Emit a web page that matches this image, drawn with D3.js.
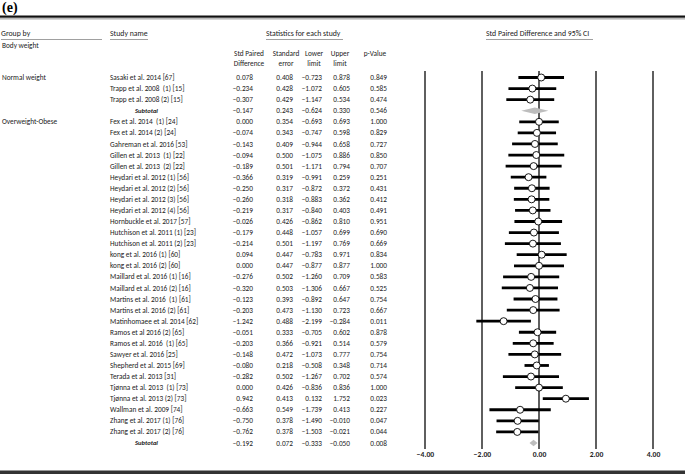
<!DOCTYPE html>
<html>
<title>Forest plot (e)</title>
<meta charset="UTF-8">
<script type="text/javascript" src="https://d3js.org/d3.v7.min.js"></script>
<style type="text/css">
	body { margin:0; background:white; }
	svg { display:block; }
	text { font-family: "Carlito", "Liberation Sans", Arial, sans-serif; font-size: 7.3px; fill:#222; white-space: pre; }
	.hdr { font-size: 7.8px; }
	.sub { font-style: italic; font-weight: bold; font-size: 6.6px; }
	.tick text { font-weight: bold; font-size: 7.6px; fill:#222; }
</style>
<body>
<svg id="viz"></svg>
</body>
<script type="text/javascript">

	var groupNames = ["Normal weight", "Overweight-Obese"];
	var groupFirstRow = [0, 4];

	var names = ["Sasaki et al. 2014 [67]", "Trapp et al. 2008  (1) [15]", "Trapp et al. 2008 (2) [15]", "Subtotal",
		"Fex et al. 2014  (1) [24]", "Fex et al. 2014 (2) [24]", "Gahreman et al. 2016 [53]", "Gillen et al. 2013  (1) [22]",
		"Gillen et al. 2013  (2) [22]", "Heydari et al. 2012 (1) [56]", "Heydari et al. 2012 (2) [56]", "Heydari et al. 2012 (3) [56]",
		"Heydari et al. 2012 (4) [56]", "Hornbuckle et al. 2017 [57]", "Hutchison et al. 2011 (1) [23]", "Hutchison et al. 2011 (2) [23]",
		"kong et al. 2016 (1) [60]", "kong et al. 2016 (2) [60]", "Maillard et al. 2016 (1) [16]", "Maillard et al. 2016 (2) [16]",
		"Martins et al. 2016  (1) [61]", "Martins et al. 2016 (2) [61]", "Matinhomaee et al. 2014 [62]", "Ramos et al 2016 (2) [65]",
		"Ramos et al. 2016  (1) [65]", "Sawyer et al. 2016 [25]", "Shepherd et al. 2015 [69]", "Terada et al. 2013 [31]",
		"Tjønna et al. 2013  (1) [73]", "Tjønna et al. 2013 (2) [73]", "Wallman et al. 2009 [74]", "Zhang et al. 2017 (1) [76]",
		"Zhang et al. 2017 (2) [76]", "Subtotal"];

	var diff = [0.078, -0.234, -0.307, -0.147, 0.000, -0.074, -0.143, -0.094, -0.189, -0.366, -0.250, -0.260, -0.219, -0.026, -0.179, -0.214,
		0.094, 0.000, -0.276, -0.320, -0.123, -0.203, -1.242, -0.051, -0.203, -0.148, -0.080, -0.282, 0.000, 0.942, -0.663, -0.750, -0.762, -0.192];
	var se = [0.408, 0.428, 0.429, 0.243, 0.354, 0.343, 0.409, 0.500, 0.501, 0.319, 0.317, 0.318, 0.317, 0.426, 0.448, 0.501,
		0.447, 0.447, 0.502, 0.503, 0.393, 0.473, 0.488, 0.333, 0.366, 0.472, 0.218, 0.502, 0.426, 0.413, 0.549, 0.378, 0.378, 0.072];
	var lower = [-0.723, -1.072, -1.147, -0.624, -0.693, -0.747, -0.944, -1.075, -1.171, -0.991, -0.872, -0.883, -0.840, -0.862, -1.057, -1.197,
		-0.783, -0.877, -1.260, -1.306, -0.892, -1.130, -2.199, -0.705, -0.921, -1.073, -0.508, -1.267, -0.836, 0.132, -1.739, -1.490, -1.503, -0.333];
	var upper = [0.878, 0.605, 0.534, 0.330, 0.693, 0.598, 0.658, 0.886, 0.794, 0.259, 0.372, 0.362, 0.403, 0.810, 0.699, 0.769,
		0.971, 0.877, 0.709, 0.667, 0.647, 0.723, -0.284, 0.602, 0.514, 0.777, 0.348, 0.702, 0.836, 1.752, 0.413, -0.010, -0.021, -0.050];
	var pval = [0.849, 0.585, 0.474, 0.546, 1.000, 0.829, 0.727, 0.850, 0.707, 0.251, 0.431, 0.412, 0.491, 0.951, 0.690, 0.669,
		0.834, 1.000, 0.583, 0.525, 0.754, 0.667, 0.011, 0.878, 0.579, 0.754, 0.714, 0.574, 1.000, 0.023, 0.227, 0.047, 0.044, 0.008];

	var axisTicks = [-4, -2, 0, 2, 4];

	var width = 685, height = 474;
	var rows = names.map(function(n, i){
		return {name: n, diff: diff[i], se: se[i], lower: lower[i], upper: upper[i], p: pval[i], sub: n === "Subtotal"};
	});

	var svg = d3.select("#viz").attr("width", width).attr("height", height);

	var xScale = d3.scaleLinear().domain([-4, 4]).range([425, 653]);
	var yScale = d3.scaleLinear().domain([0, rows.length - 1]).range([77.5, 443]);
	var f3 = d3.format(".3f");

	// title + rules
	svg.append("text").attr("x", 2).attr("y", 12)
		.style("font-family", "'Liberation Serif', serif").style("font-size", "14px").style("font-weight", "bold")
		.style("fill", "#000").text("(e)");
	svg.append("rect").attr("x", 0).attr("y", 15.5).attr("width", width).attr("height", 2.2).attr("fill", "#111");
	svg.append("rect").attr("x", 0).attr("y", 18.5).attr("width", width).attr("height", 0.8).attr("fill", "#777");
	svg.append("rect").attr("x", 0).attr("y", 470.5).attr("width", width).attr("height", 3.5).attr("fill", "#333");

	// header labels with underline
	var heads = [
		{t: "Group by", x: 1, x2: 102},
		{t: "Study name", x: 110, x2: 148},
		{t: "Statistics for each study", x: 266, x2: 343},
		{t: "Std Paired Difference and 95% CI", x: 486, x2: 593}
	];
	heads.forEach(function(h){
		svg.append("text").attr("class", "hdr").attr("x", h.x).attr("y", 36).text(h.t);
		svg.append("line").attr("x1", h.x).attr("x2", h.x2).attr("y1", 39.5).attr("y2", 39.5)
			.attr("stroke", "#888").attr("stroke-width", 0.8);
	});
	svg.append("text").attr("x", 2).attr("y", 48).text("Body weight");

	var cols = [
		{a: "Std Paired", b: "Difference", cx: 249, right: 253, key: "diff"},
		{a: "Standard", b: "error", cx: 286, right: 293, key: "se"},
		{a: "Lower", b: "limit", cx: 314, right: 322, key: "lower"},
		{a: "Upper", b: "limit", cx: 340, right: 350, key: "upper"},
		{a: "p-Value", b: "", cx: 375, right: 387, key: "p"}
	];
	cols.forEach(function(c){
		svg.append("text").attr("x", c.cx).attr("y", 56).attr("text-anchor", "middle").text(c.a);
		svg.append("text").attr("x", c.cx).attr("y", 66).attr("text-anchor", "middle").text(c.b);
	});

	// group labels
	svg.selectAll("text.grp").data(groupNames).enter().append("text")
		.attr("class", "grp").attr("x", 2)
		.attr("y", function(d, i){ return yScale(groupFirstRow[i]); })
		.attr("dy", "0.35em").text(function(d){ return d; });

	// table rows
	var row = svg.selectAll("g.row").data(rows).enter().append("g")
		.attr("class", "row")
		.attr("transform", function(d, i){ return "translate(0," + yScale(i) + ")"; });

	row.append("text")
		.attr("class", function(d){ return d.sub ? "sub" : null; })
		.attr("x", function(d){ return d.sub ? 135 : 110; })
		.attr("dy", "0.35em")
		.text(function(d){ return d.name; });

	cols.forEach(function(c){
		row.append("text").attr("x", c.right).attr("dy", "0.35em").attr("text-anchor", "end")
			.text(function(d){ return f3(d[c.key]); });
	});

	// forest plot reference lines
	svg.selectAll("line.ref").data(axisTicks).enter().append("line")
		.attr("class", "ref")
		.attr("x1", function(d){ return xScale(d); }).attr("x2", function(d){ return xScale(d); })
		.attr("y1", 71).attr("y2", 449)
		.attr("stroke", "#2a2a2a").attr("stroke-width", 1.5);

	var studies = rows.filter(function(d){ return !d.sub; });
	var subs = rows.filter(function(d){ return d.sub; });

	svg.selectAll("line.ci").data(studies).enter().append("line")
		.attr("class", "ci")
		.attr("x1", function(d){ return xScale(d.lower); })
		.attr("x2", function(d){ return xScale(d.upper); })
		.attr("y1", function(d){ return yScale(rows.indexOf(d)); })
		.attr("y2", function(d){ return yScale(rows.indexOf(d)); })
		.attr("stroke", "#000").attr("stroke-width", 2.8);

	svg.selectAll("circle.pt").data(studies).enter().append("circle")
		.attr("class", "pt")
		.attr("cx", function(d){ return xScale(d.diff); })
		.attr("cy", function(d){ return yScale(rows.indexOf(d)); })
		.attr("r", 3.5)
		.attr("fill", "white").attr("stroke", "#000").attr("stroke-width", 0.9);

	svg.selectAll("path.dia").data(subs).enter().append("path")
		.attr("class", "dia")
		.attr("d", function(d){
			var y = yScale(rows.indexOf(d));
			return "M" + xScale(d.lower) + "," + y + "L" + xScale(d.diff) + "," + (y - 3.2) +
				"L" + xScale(d.upper) + "," + y + "L" + xScale(d.diff) + "," + (y + 3.2) + "Z";
		})
		.attr("fill", "#bdbdbd");

	// axis labels
	var xAxis = d3.axisBottom(xScale).tickValues(axisTicks).tickSize(0).tickPadding(0).tickFormat(d3.format(".2f"));
	var ax = svg.append("g").attr("transform", "translate(0,452)").call(xAxis);
	ax.select(".domain").remove();

</script>
</html>
